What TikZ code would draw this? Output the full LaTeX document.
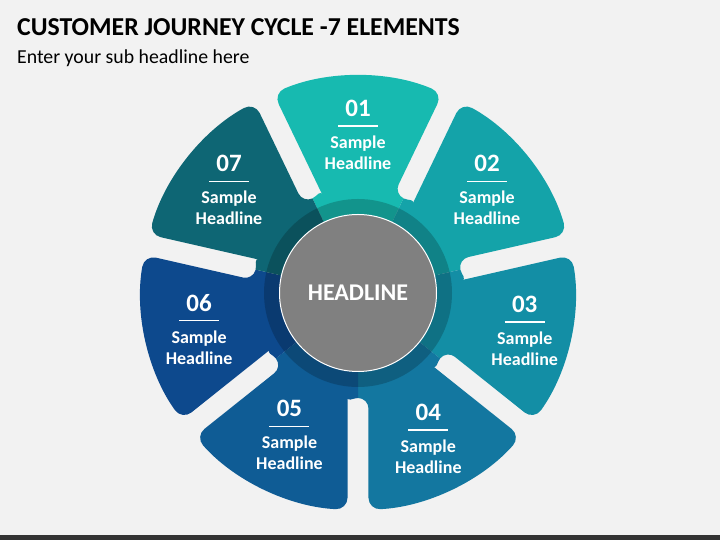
\documentclass[tikz,border=0pt]{standalone}
\usepackage{fontspec}
\setmainfont{Carlito}
\usepackage{tikz}
\usetikzlibrary{positioning}
\definecolor{bgcol}{HTML}{F2F2F2}
\definecolor{barcol}{HTML}{333333}
\definecolor{segA}{HTML}{17BAB0}
\definecolor{segB}{HTML}{14A3A9}
\definecolor{segC}{HTML}{138EA5}
\definecolor{segD}{HTML}{1377A0}
\definecolor{segE}{HTML}{0F5C95}
\definecolor{segF}{HTML}{0D498D}
\definecolor{segG}{HTML}{0E6674}
\definecolor{hubcol}{HTML}{808080}

\begin{document}
\begin{tikzpicture}[line cap=round,line join=round,x=1pt,y=1pt,
  seglabel/.style={text=white,align=center,inner sep=0pt,font=\bfseries\fontsize{18}{21}\selectfont},
  hubnode/.style={circle,minimum size=157pt,inner sep=0pt,fill=hubcol,draw=white,line width=1pt,text=white,font=\bfseries\fontsize{24}{24}\selectfont}]
\useasboundingbox (0,0) rectangle (720,540);
\fill[color=bgcol] (0,0) rectangle (720,540);
\fill[color=barcol] (0,0) rectangle (720,5);
\node[anchor=base west,inner sep=0pt,font=\bfseries\fontsize{25.8}{26}\selectfont] (title) at (17,504) {CUSTOMER JOURNEY CYCLE -7 ELEMENTS};
\node[anchor=base west,inner sep=0pt,font=\fontsize{19.8}{20}\selectfont] (subtitle) at (17,476) {Enter your sub headline here};
\begin{scope}[shift={(358,247)}]
\foreach \a/\c in {90/segA,38.57/segB,-12.86/segC,-64.29/segD,-115.71/segE,-167.14/segF,141.43/segG}{
  \pgfmathsetmacro\bl{\a-25.714}
  \pgfmathsetmacro\br{\a+25.714}
  \fill[color=\c] (0,0) -- (\bl:105) arc[start angle=\bl+180,end angle=\bl+90,radius=10.5]
    [rounded corners=12pt] -- ({\bl+2.773}:217) arc[start angle=\bl+2.773,end angle=\br-2.773,radius=217]
    -- ({\br-5.194}:115.98) [sharp corners] arc[start angle=\br-90,end angle=\br-180,radius=10.5] -- cycle;
}
\fill[color=black,opacity=0.2] (0,0) circle (94);
\node[hubnode] (hub) at (0,0) {HEADLINE};
\foreach \a/\n/\r in {90/01/158,38.57/02/165,-12.86/03/171,-64.29/04/162,-115.71/05/158,-167.14/06/163,141.43/07/165}
  \node[seglabel] (lbl\n) at (\a:\r) {{\fontsize{25}{21}\selectfont \n}\\[-11pt]\rule{40pt}{1.2pt}\\[1pt]Sample\\Headline};
\end{scope}
\end{tikzpicture}
\end{document}
